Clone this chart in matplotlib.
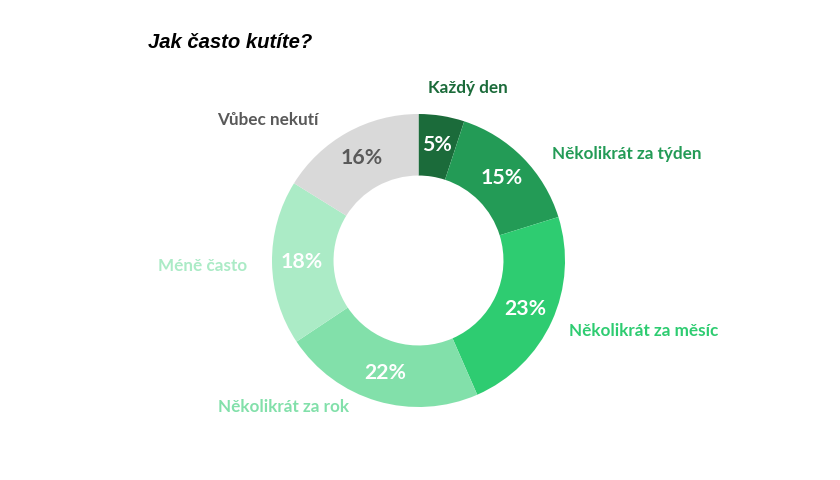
import matplotlib.pyplot as plt
import numpy as np

labels = ["Každý den", "Několikrát za týden", "Několikrát za měsíc",
          "Několikrát za rok", "Méně často", "Vůbec nekutí"]
values = [5, 15, 23, 22, 18, 16]
colors = ["#1b6b3a", "#239b56", "#2ecc71", "#82e0aa", "#abebc6", "#d9d9d9"]
label_colors = ["#1b6b3a", "#239b56", "#2ecc71", "#82e0aa", "#abebc6", "#595959"]
pct_colors = ["white", "white", "white", "white", "white", "#595959"]

# outer label placement (x, y in data units of the pie axes, alignment)
label_pos = [(0.34, 1.18, "center"), (0.91, 0.73, "left"), (1.03, -0.48, "left"),
             (-0.92, -1.0, "center"), (-1.17, -0.04, "right"), (-0.68, 0.96, "right")]

fig = plt.figure(figsize=(8.4, 4.8), dpi=100)
cx, cy, r = 418.5, 260.5, 146.5
ax = fig.add_axes([(cx - r) / 840, (480 - cy - r) / 480, 2 * r / 840, 2 * r / 480])

wedges, _, autotexts = ax.pie(values, colors=colors, startangle=90, counterclock=False,
                              radius=1, autopct="%d%%", pctdistance=0.80,
                              wedgeprops=dict(width=0.42, edgecolor="none"))
for t, c in zip(autotexts, pct_colors):
    t.set_color(c)
    t.set_fontsize(15.3)
    t.set_fontweight("bold")
    t.set_fontfamily("Lato")

for lab, (x, y, ha), c in zip(labels, label_pos, label_colors):
    ax.text(x, y, lab, ha=ha, va="center", color=c, fontsize=12.3,
            fontweight="bold", fontfamily="Lato")

ax.set_xlim(-1, 1)
ax.set_ylim(-1, 1)
ax.set_aspect("equal")
ax.axis("off")

fig.text(148 / 840, 1 - 42 / 480, "Jak často kutíte?", fontsize=14.6, fontweight="bold",
         fontstyle="italic", fontfamily="Liberation Sans", va="center", ha="left")

plt.savefig("out.png", dpi=100)
